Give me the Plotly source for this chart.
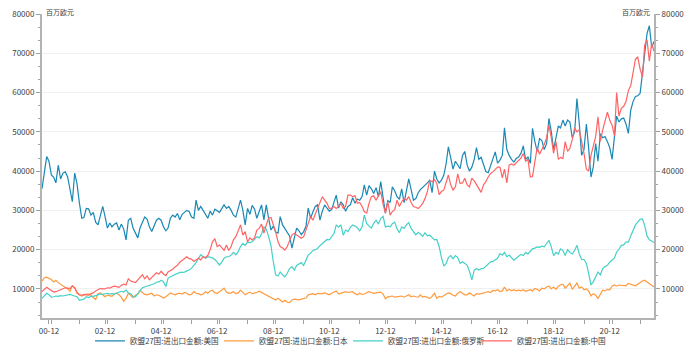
import pandas as pd
import plotly.graph_objects as go

# Monthly data, 2000-09 .. 2022-07 (百万欧元)
months = pd.date_range("2000-09-01", periods=263, freq="MS")

us = [
    35500, 40000, 43700, 42500, 39000, 38400, 37000, 41500, 38000, 39500, 39800, 38500,
    35000, 32200, 39500, 36800, 31900, 28000, 28200, 30500, 30400, 28800, 29500, 27000,
    26300, 28500, 31000, 28500, 25500, 26800, 25800, 26500, 26800, 25000, 26500, 25300,
    22500, 27500, 28000, 25500, 24000, 23000, 25500, 27000, 28300, 27800, 25800, 24600,
    26000, 27500, 28000, 27500, 25800, 24800, 25500, 28000, 28800, 28300, 29200, 27600,
    29000, 29500, 30000, 29700, 28300, 28000, 32600, 30000, 31000, 30000, 29000, 28000,
    29800, 28800, 30300, 30000, 29500, 30500, 31400, 30500, 31000, 30000, 28800, 28300,
    30200, 32600, 30000, 26300, 30500, 29000, 31300, 30300, 28000, 30000, 31400, 27600,
    31400, 28000, 25000, 26000, 24500, 24200, 28400, 26300, 25300, 24500, 23500, 20400,
    23000, 25500, 24800, 23800, 24600, 26000, 30600, 28000, 29600, 31000, 31400, 27500,
    29800, 31400, 30600, 29800, 30200, 32000, 33900, 30600, 32200, 31400, 29800, 31000,
    31400, 33200, 31800, 32900, 32600, 33500, 36500, 33900, 36300, 35500, 34300, 35800,
    33500, 37300, 33600, 29300, 32500, 32000, 36000, 35000, 33500, 32800, 35500, 32000,
    35000, 38000, 35300, 32600, 33000, 34500, 35300, 35800, 36500, 37000, 37700, 34500,
    40000, 38000, 37000, 37700, 39000, 42000, 46200, 43500, 40500, 42500, 41500, 40600,
    44000, 45000, 41500, 40000, 41000, 43000, 46000, 43000, 43500, 41500, 39900, 39600,
    41500, 43500, 44900, 42000, 42800, 44000, 51000, 45500, 44000, 43000, 42300, 43200,
    43600, 44500, 46400, 43000, 43600, 42000, 50900, 47500, 45000, 48300, 47800, 45500,
    47000, 53400, 50000, 45500, 48500, 51500, 51000, 53000, 51500, 53000, 52500, 48500,
    50000, 58500, 52000, 44000, 45500, 52000, 46000, 38500, 41000, 47000, 42500, 49500,
    48500, 48800, 47500, 46000, 43000, 48500, 54000, 52500, 53300, 53500, 52000, 49600,
    55500, 57700, 59000, 59200, 59800, 65000, 70000, 75000, 77000, 71500, 73000,
]

japan = [
    12000, 12800, 13000, 12700, 12400, 11800, 12200, 11600, 11200, 10900, 10400, 10000,
    9400, 10800, 10400, 8900, 8500, 8200, 8400, 8700, 8700, 8400, 7800, 7300,
    8800, 9000, 8500, 8000, 8400, 8300, 8100, 8700, 8900, 8500, 7900, 6900,
    7600, 8900, 8400, 7800, 8400, 8700, 9600, 9200, 8600, 8500, 8700, 8900,
    8200, 8500, 8400, 8100, 7700, 8000, 8600, 9000, 8700, 8500, 8800, 8900,
    8700, 9100, 8900, 8500, 8600, 9300, 8900, 8800, 8500, 8700, 9300, 8900,
    9500, 9700, 9000, 8900, 9300, 9800, 10200, 9200, 8900, 9000, 9300, 8800,
    9000, 9700, 9200, 8500, 8900, 9200, 8800, 8900, 9100, 9400, 9100, 8700,
    8400, 8000, 7700, 7400, 7200, 7600, 7200, 6700, 7100, 6600, 6500, 7200,
    7400, 7300, 7200, 7400, 7500, 7700, 8500, 8700, 8800, 8500, 8900, 8800,
    8800, 9000, 8700, 8500, 8900, 9300, 9500, 8700, 8900, 9200, 9300, 9100,
    9300, 9300, 8800, 8500, 8900, 8600, 8700, 9000, 9300, 9100, 8900, 9000,
    9100, 9200, 8700, 7500, 8000, 8100, 8200, 7900, 8000, 8100, 8200, 7900,
    8300, 8500, 8000, 8200, 8000, 7900, 8500, 7900, 8100, 7800, 7600, 8100,
    8900, 7600, 8100, 7900, 8200, 8700, 9000, 8800, 8400, 8200, 8900, 9300,
    8900, 8500, 8500, 9000, 8600, 8200, 8800, 8700, 8800, 8900, 9100, 9300,
    9100, 9600, 9500, 9800, 9300, 9500, 10500, 9500, 9900, 9500, 9800, 9500,
    9700, 9500, 9800, 9400, 9700, 9800, 9500, 10100, 9900, 9500, 10200, 10000,
    10500, 10700, 10000, 10500, 9900, 10700, 11000, 11200, 10200, 11000, 11500, 9900,
    10900, 11500, 10200, 10500, 9800, 10000, 9500, 8200, 8800, 8400, 7600, 8800,
    9700, 9500, 9900, 9800, 10700, 11000, 10700, 11000, 10900, 10800, 10800, 11400,
    11200, 10900, 10800, 11200, 11700, 12000, 12200, 11800, 11500, 11000, 10500,
]

russia = [
    7600, 8200, 8900, 8500, 7900, 8000, 8200, 8100, 8300, 8200, 8300, 8500,
    8600, 8400, 8200, 8000, 7100, 7300, 7400, 8000, 7800, 8100, 8100, 8300,
    8600, 8700, 8600, 8800, 8900, 8700, 8800, 8700, 8900, 9000, 9400, 9200,
    9700, 9000, 8800, 8100, 8000, 8800, 9600, 10300, 10500, 10700, 10800, 11000,
    11300, 11700, 11800, 12200, 11800, 10600, 12700, 13100, 13400, 13600, 14000, 14200,
    14200, 14300, 14600, 14800, 15300, 16000, 16700, 17800, 18700, 18200, 17800, 18200,
    18100, 17900, 17500, 16700, 16100, 16900, 17800, 18200, 18200, 18600, 19300, 18700,
    19500, 20800, 21600, 21100, 21900, 21800, 22000, 22600, 23300, 23000, 24000, 25800,
    25200, 23400, 21000, 17000, 13600, 13300, 14300, 13600, 13100, 14000, 15200, 15700,
    14800, 16000, 16400, 16700, 16000, 17200, 18600, 19100, 19800, 20000, 20300, 21000,
    21600, 22000, 22600, 22500, 23300, 24100, 26300, 25700, 26300, 23700, 25000, 24600,
    25700, 26300, 26000, 25600, 24800, 25800, 28800, 26700, 26000, 25500, 26700, 27500,
    26500, 28000, 28500, 25800, 26000, 25800, 26600, 27000, 25300, 24300, 25800, 25400,
    26300, 26900, 25400, 24600, 23800, 24400, 23800, 23400, 24300, 23500, 23700, 23000,
    22500, 22600, 20800, 18000, 15800, 16500, 18000, 18500, 17700, 18500, 18000, 16500,
    16900, 16500, 16000, 14500, 12300, 14800, 15200, 14800, 15200, 15200, 15800, 16300,
    16900, 17000, 17400, 17800, 19000, 18600, 19300, 18200, 18600, 17900, 17300, 17800,
    18300, 18800, 18500, 19300, 18900, 19600, 20200, 20400, 20700, 20600, 20900, 20700,
    21600, 22400, 20700, 18500, 19300, 18900, 20200, 19800, 18500, 20000, 19300, 18900,
    19800, 21100, 18900, 17500, 17500, 16500, 14000, 11000, 11800, 13000, 14300, 13600,
    15200, 15700, 16000, 16800, 17300, 17900, 19400, 20100, 21100, 21200, 21900, 21900,
    23500, 25000, 26300, 27000, 27700, 27800, 26200, 23500, 22500, 22200, 21800,
]

china = [
    9300, 9800, 10400, 10000, 9500, 9200, 9300, 9600, 9800, 10000, 10300, 10200,
    10100, 10800, 10200, 9200, 8500, 8400, 8600, 8500, 8400, 8800, 9000, 9500,
    9800, 10100, 10000, 10000, 10300, 10200, 10500, 10700, 10600, 10400, 10900, 11200,
    11000, 12600, 12000, 11800, 11600, 12300, 13000, 13600, 12600, 13300, 12300, 13000,
    13600, 14100, 13800, 14500, 13800, 13400, 14300, 14600, 15000, 15600, 16000, 16800,
    17200, 17800, 18200, 17700, 17600, 17000, 17400, 17800, 17400, 18200, 18000, 18500,
    20000, 22000, 22800, 20800, 21200, 20300, 19800, 21200, 19800, 20800, 22500, 23300,
    25000, 26300, 23700, 24600, 22000, 23000, 22500, 23000, 25000, 25400, 26500, 24200,
    26300, 28000, 28200, 26500, 24500, 22000, 20800, 20400, 19900, 20800, 22500, 23700,
    24200, 23800, 23300, 22900, 23300, 25200, 27000, 28400, 27500, 29000, 30500, 32200,
    33500, 32600, 31800, 30500, 30500, 31000, 30500, 31000, 31800, 30500, 31000, 33900,
    33900, 33500, 33700, 31800, 32000, 31000, 29700, 29300, 31800, 33500, 33700, 32600,
    33900, 34800, 31500, 29300, 32200, 28800, 29700, 30200, 32600, 31000, 32200, 33000,
    32600, 33500, 32000, 31000, 30800, 30500, 31000, 31800, 33000, 34800, 37700, 37300,
    37800, 36900, 34000, 34800, 35200, 37300, 39000, 36500, 35200, 36000, 39300, 36900,
    37000, 38200, 36500, 36000, 38200, 37500, 36500, 35800, 34600, 36500, 37300, 38500,
    39400, 39800, 40500, 41000, 41000, 38300, 40500, 37000, 41500, 41800, 41500, 42200,
    42700, 43300, 44500, 42500, 43000, 38500, 38600, 42500, 46000, 44300, 45400, 46800,
    48500, 51700, 48500, 44500, 47500, 43000, 43500, 43200, 47500, 45000, 45800, 48000,
    51000, 50000, 50500, 47800, 44500, 40500, 40000, 44000, 46500, 48800, 53800, 47600,
    50500, 53000, 55000, 53000, 51700, 49000, 60000, 54000, 56000, 56500, 57700, 60500,
    61800, 65000, 68500, 69000, 66000, 64000, 72000, 73500, 68000, 72500, 70500,
]

series_names = ["欧盟27国:进出口金额:美国", "欧盟27国:进出口金额:日本",
                "欧盟27国:进出口金额:俄罗斯", "欧盟27国:进出口金额:中国"]
series_values = [us, japan, russia, china]
series_colors = ["#1a88b4", "#ff9a3d", "#45d0c8", "#ff6464"]
unit_label = "百万欧元"

FONT = "Noto Sans CJK SC, Microsoft YaHei, sans-serif"
Y_RANGE = [2600, 80000]

fig = go.Figure()
for name, vals, col in zip(series_names, series_values, series_colors):
    fig.add_trace(go.Scatter(x=months, y=vals, mode="lines", name=name,
                             line=dict(color=col, width=1.2)))

# invisible trace to drive the right-hand axis
fig.add_trace(go.Scatter(x=months, y=us, mode="lines", yaxis="y2",
                         line=dict(width=0, color="rgba(0,0,0,0)"),
                         showlegend=False, hoverinfo="skip"))

axis_common = dict(
    showline=True, linecolor="#b3b3b3", linewidth=2,
    ticks="outside", ticklen=4, tickcolor="#a0a0a0", automargin=False,
    ticklabeloverflow="allow",
    tickfont=dict(size=8, color="#404040", family=FONT),
)

# page body adds an 8px offset, so the figure is 8px smaller with shifted margins
fig.update_layout(
    width=691, height=351,
    margin=dict(l=34, r=45, t=6, b=41, autoexpand=False),
    paper_bgcolor="white", plot_bgcolor="white",
    font=dict(family=FONT, size=8, color="#404040"),
    xaxis=dict(
        type="date", range=[months[0], months[-1]],
        tickformat="%y-%m", dtick="M24", tick0="2000-12-01",
        showgrid=False, zeroline=False,
        minor=dict(dtick="M12", ticks="outside", ticklen=4, tickcolor="#a0a0a0"),
        **axis_common,
    ),
    yaxis=dict(
        range=Y_RANGE, dtick=10000, tick0=0, tickformat="d",
        showgrid=True, gridcolor="#f0f0f0", gridwidth=1, zeroline=False,
        minor=dict(dtick=10000 / 3, tick0=0, ticks="outside", ticklen=2,
                   tickcolor="#a0a0a0", showgrid=False),
        **axis_common,
    ),
    yaxis2=dict(
        range=Y_RANGE, dtick=10000, tick0=0, tickformat="d",
        overlaying="y", side="right",
        showgrid=False, zeroline=False,
        minor=dict(dtick=10000 / 3, tick0=0, ticks="outside", ticklen=2,
                   tickcolor="#a0a0a0", showgrid=False),
        **axis_common,
    ),
    legend=dict(
        orientation="h", x=0.5, xanchor="center", y=-0.075, yanchor="middle",
        font=dict(size=7.6, color="#404040", family=FONT),
        itemwidth=30, entrywidth=84, entrywidthmode="pixels",
        tracegroupgap=0, bgcolor="rgba(0,0,0,0)",
    ),
    showlegend=True,
    annotations=[
        dict(text=unit_label, xref="paper", yref="paper", x=0, y=1,
             xanchor="left", yanchor="middle", xshift=2, yshift=2, showarrow=False,
             font=dict(size=7, color="#404040", family=FONT)),
        dict(text=unit_label, xref="paper", yref="paper", x=1, y=1,
             xanchor="right", yanchor="middle", xshift=-2, yshift=2, showarrow=False,
             font=dict(size=7, color="#404040", family=FONT)),
    ],
)

fig.write_html("out.html")
